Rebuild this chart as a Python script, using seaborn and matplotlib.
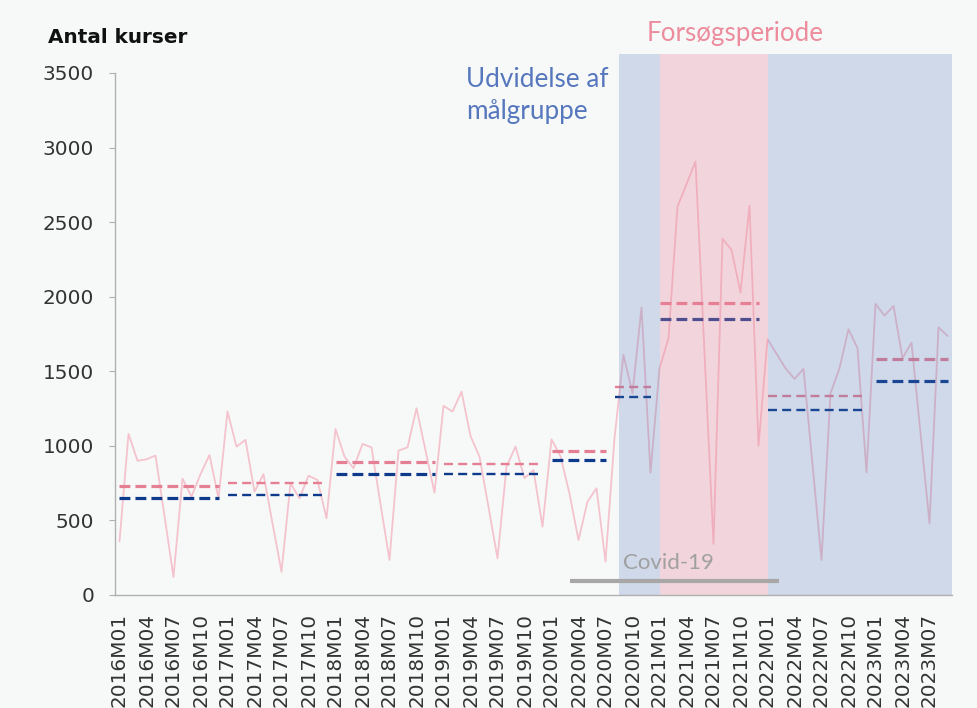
import matplotlib
matplotlib.use("Agg")
import matplotlib.pyplot as plt
import seaborn as sns
import pandas as pd
import numpy as np

# Maanedlige kurser 2016M01 - 2023M09
months = [f"{y}M{m:02d}" for y in range(2016, 2024) for m in range(1, 13)][:93]

kurser = [
    360, 1080, 900, 910, 935, 530, 120, 780, 660, 810, 939, 648,        # 2016
    1230, 995, 1040, 693, 810, 480, 156, 749, 648, 800, 771, 514,       # 2017
    1113, 928, 850, 1013, 990, 610, 235, 968, 990, 1252, 970, 686,      # 2018
    1268, 1230, 1364, 1066, 928, 590, 246, 860, 995, 783, 838, 458,     # 2019
    1044, 930, 680, 369, 626, 716, 224, 1050, 1610, 1352, 1927, 820,    # 2020
    1520, 1721, 2604, 2755, 2906, 1624, 342, 2388, 2314, 2028, 2611, 1001,  # 2021
    1715, 1618, 1520, 1449, 1516, 875, 235, 1353, 1520, 1782, 1655, 823,    # 2022
    1952, 1873, 1938, 1588, 1692, 1086, 481, 1795, 1737,                # 2023
]

# Gennemsnitsniveauer pr. periode
period_start = ["2016M01", "2017M01", "2018M01", "2019M01", "2020M01",
                "2020M08", "2021M01", "2022M01", "2023M01"]
period_end = ["2016M12", "2017M12", "2018M12", "2019M12", "2020M07",
              "2020M12", "2021M12", "2022M12", "2023M09"]
level_pink = [731, 751, 892, 879, 966, 1397, 1956, 1337, 1581]
level_navy = [648, 671, 814, 810, 903, 1326, 1851, 1241, 1435]

udvidelse = ("2020M09", "2023M09")
forsoeg = ("2021M01", "2022M01")
covid = ("2020M03", "2022M02")
covid_level = 94

tick_labels = months[::3]

BG = "#F7F9F9"
PINK_LINE = "#F4C3CD"
PINK = "#E57F93"
NAVY = "#0D3A8A"
BLUE_BAND = "#4A72B8"
PINK_BAND = "#E8829A"

sns.set_style("white", rc={"axes.facecolor": BG, "figure.facecolor": BG})
plt.rcParams["font.family"] = ["DejaVu Sans"]

W, H = 978, 708
fig = plt.figure(figsize=(W / 100, H / 100), dpi=100)
ax = fig.add_axes([115 / W, 1 - 595 / H, (952 - 115) / W, (595 - 73) / H])

df = pd.DataFrame({"idx": np.arange(len(months)), "maaned": months, "kurser": kurser})
sns.lineplot(data=df, x="idx", y="kurser", ax=ax, color=PINK_LINE, lw=1.3, zorder=2)

pos = {m: i for i, m in enumerate(months)}
for k, (s, e) in enumerate(zip(period_start, period_end)):
    thick = k % 2 == 0
    lw_p = 2.3 if thick else 1.7
    pat = (0, (3.4, 1.6)) if thick else (0, (3.8, 2.2))
    ax.hlines(level_pink[k], pos[s], pos[e], color=PINK, lw=lw_p, linestyles=[pat], zorder=2.5)
    ax.hlines(level_navy[k], pos[s], pos[e], color=NAVY, lw=lw_p, linestyles=[pat], zorder=2.5)

ax.set_xlim(-0.5, len(months) - 0.5)
ax.set_ylim(0, 3500)

# Perioder som skraverede felter (over linjerne, halvgennemsigtige)
top = 1 + 19 / 522
b0, b1 = pos[udvidelse[0]] - 0.5, pos[udvidelse[1]] + 0.5
p0, p1 = pos[forsoeg[0]], pos[forsoeg[1]]
for a, b in [(b0, p0), (p1, b1)]:
    ax.axvspan(a, b, ymin=0, ymax=top, color=BLUE_BAND, alpha=0.23, lw=0,
               zorder=3, clip_on=False)
ax.axvspan(p0, p1, ymin=0, ymax=top, color=PINK_BAND, alpha=0.3, lw=0,
           zorder=3, clip_on=False)

ax.hlines(covid_level, pos[covid[0]], pos[covid[1]] + 0.3, color="#A8A6A6", lw=3, zorder=4)

# Akser
for side in ["top", "right"]:
    ax.spines[side].set_visible(False)
for side in ["left", "bottom"]:
    ax.spines[side].set_color("#B0B0B0")
    ax.spines[side].set_linewidth(1)

ax.set_yticks(np.arange(0, 3501, 500))
ax.set_xticks([pos[m] for m in tick_labels])
ax.set_xticklabels(tick_labels, rotation=90, va="top", ha="center")
ax.set_xticks(np.arange(-0.5, len(months), 1), minor=True)
ax.tick_params(axis="x", which="major", length=0, pad=13, labelsize=14.4, labelcolor="#333333")
ax.tick_params(axis="x", which="minor", length=5, width=0.8, color="#B0B0B0", direction="out")
ax.tick_params(axis="y", length=4, width=0.8, color="#B0B0B0", pad=11, labelsize=14.4,
               labelcolor="#333333", left=True)
ax.set_xlabel("")
ax.set_ylabel("")


def fx(px):
    return px / W


def fy(py):
    return 1 - py / H


fig.text(fx(48), fy(43), "Antal kurser", fontsize=14.4, fontweight="bold",
         color="#111111", va="baseline", ha="left")
fig.text(fx(735), fy(41), "Forsøgsperiode", fontsize=18.7, family="Lato",
         color="#EC8C9C", va="baseline", ha="center")
fig.text(fx(466), fy(87), "Udvidelse af", fontsize=18.8, family="Lato",
         color="#5677BD", va="baseline", ha="left")
fig.text(fx(466), fy(119), "målgruppe", fontsize=18.8, family="Lato",
         color="#5677BD", va="baseline", ha="left")
fig.text(fx(623), fy(569), "Covid-19", fontsize=16, family="Lato",
         color="#A0A0A0", va="baseline", ha="left", zorder=5)

fig.savefig("out.png", dpi=100, facecolor=BG)
